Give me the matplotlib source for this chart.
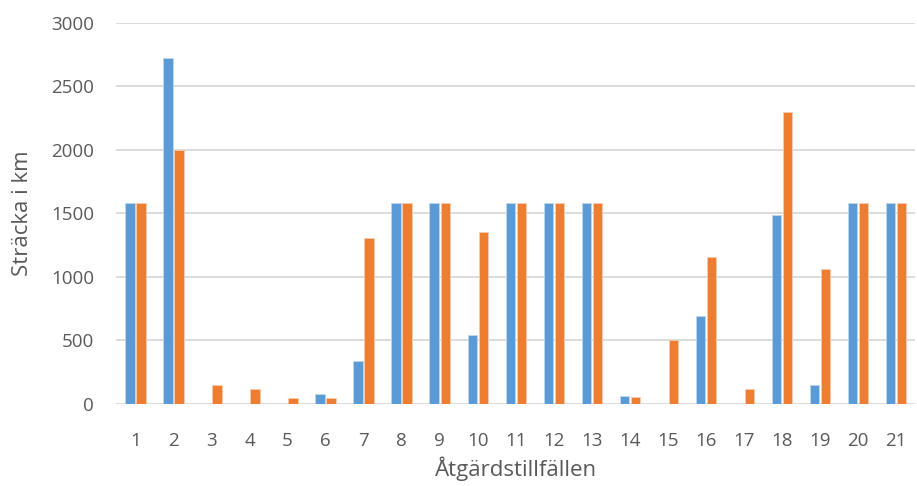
import numpy as np
import matplotlib.pyplot as plt

plt.rcParams['font.family'] = ['Open Sans', 'DejaVu Sans']

tillfallen = [str(i) for i in range(1, 22)]
serie_bla = [1585, 2720, 0, 0, 0, 80, 340, 1585, 1585, 540, 1585, 1585, 1585,
             65, 0, 690, 0, 1490, 145, 1585, 1585]
serie_orange = [1585, 2000, 150, 120, 50, 50, 1305, 1585, 1585, 1355, 1585, 1585, 1585,
                55, 505, 1160, 120, 2300, 1065, 1585, 1585]

fig = plt.figure(figsize=(9.17, 4.86), dpi=100)
ax = fig.add_axes([0.127, 0.169, 0.871, 0.784])

x = np.arange(len(tillfallen))
w = 0.25
ax.bar(x - 0.145, serie_bla, w, color='#5B9BD5', edgecolor='#BDD7EE', linewidth=0.6, zorder=3)
ax.bar(x + 0.145, serie_orange, w, color='#ED7D31', edgecolor='#F8CBAD', linewidth=0.6, zorder=3)

ax.set_xlim(-0.5, len(tillfallen) - 0.5)
ax.set_ylim(0, 3000)
ax.set_yticks(range(0, 3001, 500))
ax.set_xticks(x)
ax.set_xticklabels(tillfallen)
ax.grid(axis='y', color='#D9D9D9', linewidth=1.3, zorder=0)
for s in ax.spines.values():
    s.set_visible(False)
ax.tick_params(length=0, labelsize=13.5, labelcolor='#595959')
ax.tick_params(axis='y', pad=16)
ax.tick_params(axis='x', pad=20)

ax.set_ylabel('Sträcka i km', fontsize=16, color='#595959')
ax.yaxis.set_label_coords(-0.105, 0.5)
ax.set_xlabel('Åtgärdstillfällen', fontsize=16, color='#595959', labelpad=5)

fig.savefig('out.png')
